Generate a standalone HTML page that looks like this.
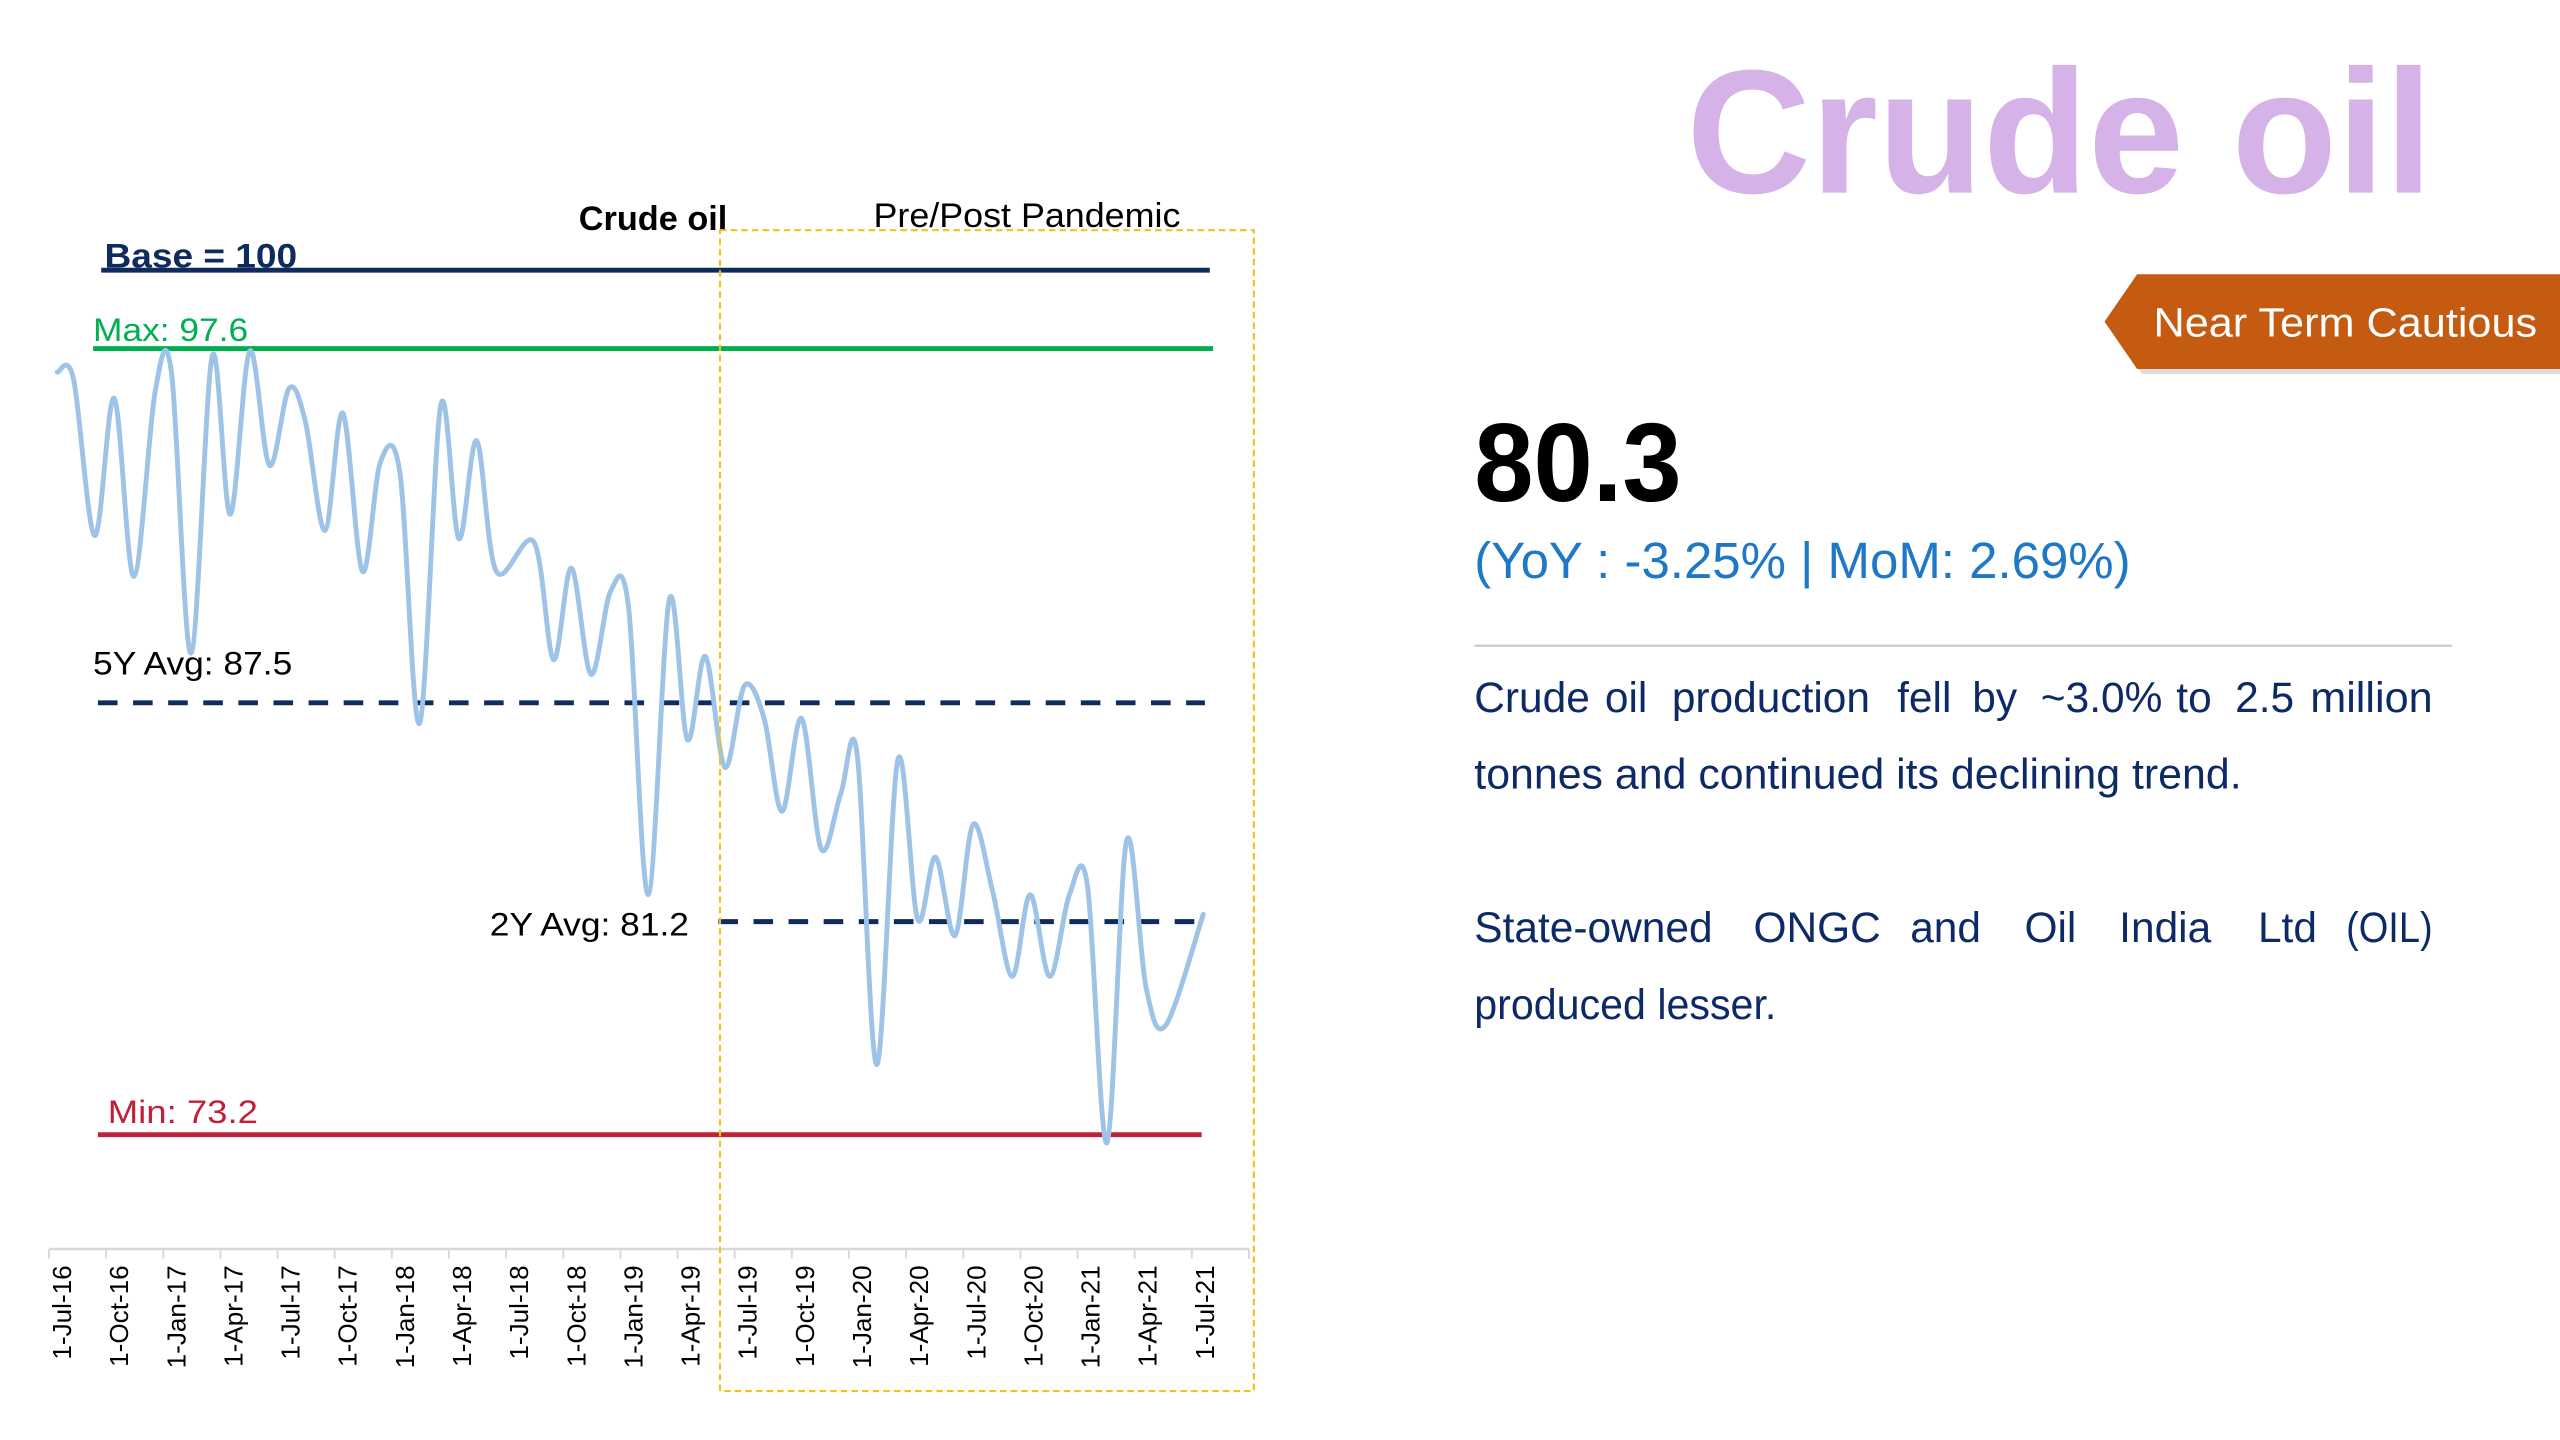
<!DOCTYPE html>
<html><head><meta charset="utf-8"><style>
html,body{margin:0;padding:0;background:#fff;width:2560px;height:1440px;overflow:hidden}
svg{display:block}
text{font-family:"Liberation Sans",sans-serif}
</style></head><body>
<svg id="s" width="2560" height="1440" viewBox="0 0 1568 882" xmlns="http://www.w3.org/2000/svg">
<rect width="1568" height="882" fill="#fff"/>
<text x="1033" y="118" font-size="108" font-weight="bold" fill="#d5b2e8" textLength="457" lengthAdjust="spacingAndGlyphs">Crude oil</text>
<polygon points="1292,199 1312,171 1568,171 1568,229 1312,229" fill="#999" opacity="0.35"/>
<polygon points="1289,197 1309,168 1568,168 1568,226 1309,226" fill="#c55a11"/>
<text x="1319" y="206" font-size="25" fill="#fff" textLength="235" lengthAdjust="spacingAndGlyphs">Near Term Cautious</text>
<text x="903" y="307" font-size="68" font-weight="bold" fill="#000" textLength="127" lengthAdjust="spacingAndGlyphs">80.3</text>
<text x="903" y="354" font-size="31" fill="#1f78c6" textLength="402" lengthAdjust="spacingAndGlyphs">(YoY : -3.25% | MoM: 2.69%)</text>
<line x1="903" y1="395.5" x2="1502" y2="395.5" stroke="#d0d0d0" stroke-width="1.5"/>
<g font-size="26" fill="#0d2a66">
<text y="436"><tspan x="903">Crude</tspan><tspan x="983">oil</tspan><tspan x="1024">production</tspan><tspan x="1162">fell</tspan><tspan x="1208">by</tspan><tspan x="1250">~3.0%</tspan><tspan x="1333">to</tspan><tspan x="1369">2.5</tspan><tspan x="1415" textLength="75" lengthAdjust="spacingAndGlyphs">million</tspan></text>
<text x="903" y="483" textLength="470" lengthAdjust="spacingAndGlyphs">tonnes and continued its declining trend.</text>
<text y="577"><tspan x="903">State-owned</tspan><tspan x="1074">ONGC</tspan><tspan x="1170">and</tspan><tspan x="1240">Oil</tspan><tspan x="1298">India</tspan><tspan x="1383">Ltd</tspan><tspan x="1437" textLength="53" lengthAdjust="spacingAndGlyphs">(OIL)</tspan></text>
<text x="903" y="624" textLength="185" lengthAdjust="spacingAndGlyphs">produced lesser.</text>
</g>
<text x="400" y="141" font-size="21" font-weight="bold" fill="#000" text-anchor="middle">Crude oil</text>
<text x="535" y="139" font-size="21" fill="#000" textLength="188" lengthAdjust="spacingAndGlyphs">Pre/Post Pandemic</text>
<line x1="62" y1="165.5" x2="741" y2="165.5" stroke="#0f2a5c" stroke-width="3"/>
<text x="64" y="164" font-size="21" font-weight="bold" fill="#0f2a5c" textLength="118" lengthAdjust="spacingAndGlyphs">Base = 100</text>
<line x1="57" y1="213.5" x2="743" y2="213.5" stroke="#00b050" stroke-width="3"/>
<text x="57" y="209" font-size="20" fill="#00b050" textLength="95" lengthAdjust="spacingAndGlyphs">Max: 97.6</text>
<line x1="60" y1="430.5" x2="738" y2="430.5" stroke="#0f2a5c" stroke-width="3" stroke-dasharray="12,9.5"/>
<text x="57" y="413" font-size="20" fill="#000" textLength="122" lengthAdjust="spacingAndGlyphs">5Y Avg: 87.5</text>
<line x1="440" y1="564.5" x2="738" y2="564.5" stroke="#0f2a5c" stroke-width="3" stroke-dasharray="12,9.5"/>
<text x="422" y="573" font-size="20" fill="#000" text-anchor="end" textLength="122" lengthAdjust="spacingAndGlyphs">2Y Avg: 81.2</text>
<line x1="60" y1="695" x2="736" y2="695" stroke="#c0203a" stroke-width="3"/>
<text x="66" y="688" font-size="20" fill="#c0203a" textLength="92" lengthAdjust="spacingAndGlyphs">Min: 73.2</text>
<path id="curve" fill="none" stroke="#9dc3e6" stroke-width="3" stroke-linejoin="round" stroke-linecap="round"/>
<line x1="30" y1="765" x2="765" y2="765" stroke="#d9d9d9" stroke-width="1.5"/>
<g id="ticks"></g>
<rect x="441" y="141" width="327" height="711" fill="none" stroke="#f2c21b" stroke-width="1.3" stroke-dasharray="4,2.5"/>
</svg>
<script>
var pts=[[35,228],[45,232],[58,328],[70,244],[82,353],[95,240],[105,228],[117,400],[130,218],[141,315],[153,215],[165,285],[177,238],[187,258],[199,325],[210,253],[222,350],[233,283],[245,290],[257,443],[270,248],[281,330],[292,270],[304,350],[327,332],[339,404],[350,348],[362,413],[374,362],[385,372],[397,548],[410,367],[421,453],[432,402],[444,470],[456,420],[468,440],[479,497],[491,440],[503,520],[515,486],[525,462],[537,652],[550,465],[562,563],[573,525],[585,573],[596,505],[608,546],[620,598],[631,548],[643,598],[655,548],[666,542],[678,700],[690,515],[702,605],[714,628],[737,560]];
var d="M"+pts[0][0]+","+pts[0][1];
for(var i=0;i<pts.length-1;i++){
 var p0=pts[Math.max(0,i-1)],p1=pts[i],p2=pts[i+1],p3=pts[Math.min(pts.length-1,i+2)];
 var c1x=p1[0]+(p2[0]-p0[0])/6,c1y=p1[1]+(p2[1]-p0[1])/6;
 var c2x=p2[0]-(p3[0]-p1[0])/6,c2y=p2[1]-(p3[1]-p1[1])/6;
 d+=" C"+c1x.toFixed(1)+","+c1y.toFixed(1)+" "+c2x.toFixed(1)+","+c2y.toFixed(1)+" "+p2[0]+","+p2[1];
}
document.getElementById("curve").setAttribute("d",d);
var labs=["1-Jul-16","1-Oct-16","1-Jan-17","1-Apr-17","1-Jul-17","1-Oct-17","1-Jan-18","1-Apr-18","1-Jul-18","1-Oct-18","1-Jan-19","1-Apr-19","1-Jul-19","1-Oct-19","1-Jan-20","1-Apr-20","1-Jul-20","1-Oct-20","1-Jan-21","1-Apr-21","1-Jul-21"];
var g=document.getElementById("ticks"),h="";
for(var k=0;k<=21;k++){var x=30+k*35;h+='<line x1="'+x+'" y1="765" x2="'+x+'" y2="771" stroke="#d9d9d9" stroke-width="1.2"/>';}
for(var k=0;k<labs.length;k++){var x=43.5+k*35;h+='<text transform="translate('+x+',775) rotate(-90)" font-size="16" fill="#000" text-anchor="end">'+labs[k]+'</text>';}
g.innerHTML=h;
</script>
</body></html>
